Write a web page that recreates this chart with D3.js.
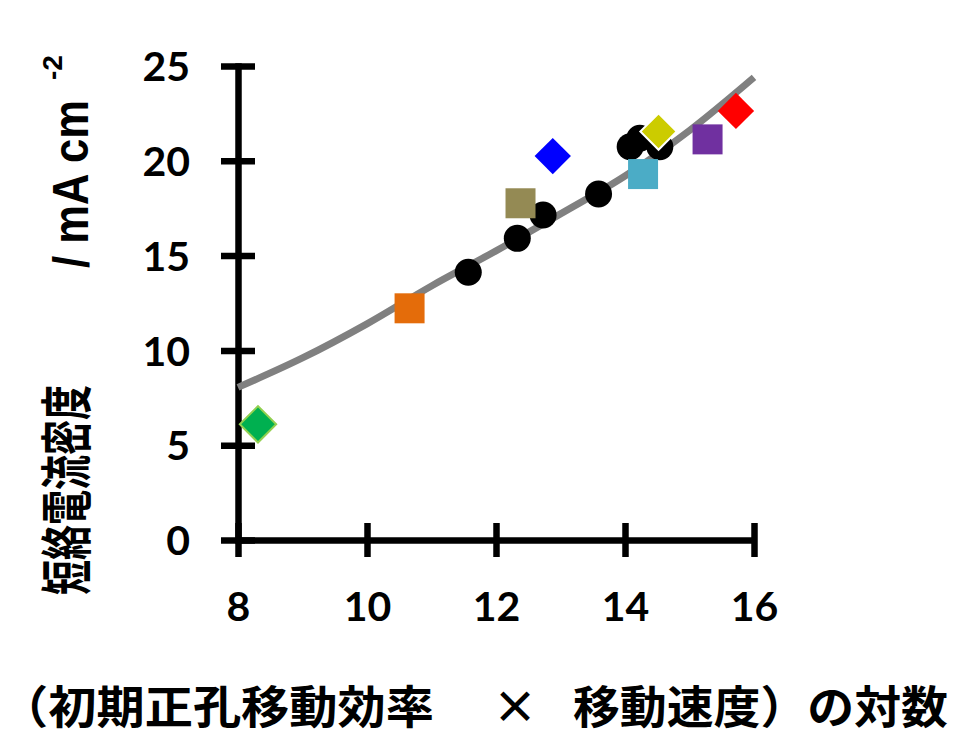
<!DOCTYPE html>
<html>
<head>
<meta charset="utf-8">
<script src="https://cdn.jsdelivr.net/npm/d3@7"></script>
<style>
  html, body { margin: 0; padding: 0; background: #fff; }
  svg { display: block; }
</style>
</head>
<body>
<svg id="chart" width="976" height="755"></svg>
<script>
// ---- data ----
const xTicks = [8, 10, 12, 14, 16];
const yTicks = [0, 5, 10, 15, 20, 25];

// fitted trend curve
const curveX = [8, 9, 10, 11, 12, 13, 14, 15, 16];
const curveY = [8.05, 9.6, 11.4, 13.4, 15.25, 17.2, 19.2, 21.6, 24.4];

// black circle series
const circleX = [11.57, 12.33, 12.73, 13.59, 14.08, 14.23, 14.54];
const circleY = [14.12, 15.91, 17.14, 18.25, 20.74, 21.19, 20.74];

// coloured markers
const markerX = [8.31, 10.66, 12.38, 12.88, 14.28, 14.52, 15.28, 15.72];
const markerY = [6.10, 12.22, 17.76, 20.25, 19.30, 21.54, 21.13, 22.63];
const markerShape = ["diamond", "square", "square", "diamond", "square", "diamond", "square", "diamond"];
const markerColor = ["#00B050", "#E46C0A", "#948A54", "#0000FF", "#4BACC6", "#CCCC00", "#7030A0", "#FF0000"];
const markerStroke = ["#92D050", "none", "none", "none", "none", "#FFFFFF", "none", "none"];

const xTitleLeft = "（初期正孔移動効率";
const xTitleMid = "×";
const xTitleRight = "移動速度）の対数";
const yTitleCJK = "短絡電流密度";
const yTitleUnit = "/ mA cm";
const yTitleSup = "-2";

// ---- layout ----
const svg = d3.select("#chart");
svg.append("rect").attr("width", 976).attr("height", 755).attr("fill", "#fff");

const x = d3.scaleLinear().domain([8, 16]).range([238, 754]);
const y = d3.scaleLinear().domain([0, 25]).range([540, 66]);

const cjk = "'Noto Sans CJK JP', 'Noto Sans CJK SC', sans-serif";
const tickFont = "Lato, 'Open Sans', sans-serif";
const AXW = 6.5;

// x axis
const gx = svg.append("g").attr("transform", `translate(0,${y(0)})`)
  .call(d3.axisBottom(x).tickValues(xTicks).tickSizeOuter(0).tickSizeInner(17).tickFormat(d3.format("d")));
gx.select(".domain").attr("stroke", "#000").attr("stroke-width", AXW);
gx.selectAll(".tick line").attr("y1", -17).attr("y2", 17).attr("stroke", "#000").attr("stroke-width", AXW);
gx.selectAll(".tick text").attr("y", 81).attr("dy", 0)
  .attr("font-family", tickFont).attr("font-weight", 700).attr("font-size", 41).attr("fill", "#000");

// y axis
const gy = svg.append("g").attr("transform", `translate(${x(8)},0)`)
  .call(d3.axisLeft(y).tickValues(yTicks).tickSizeOuter(0).tickSizeInner(17).tickFormat(d3.format("d")));
gy.select(".domain").attr("stroke", "#000").attr("stroke-width", AXW).attr("stroke-linecap", "square");
gy.selectAll(".tick line").attr("x1", -17).attr("x2", 17).attr("stroke", "#000").attr("stroke-width", AXW);
gy.selectAll(".tick text").attr("x", -48).attr("dy", "0.36em").attr("text-anchor", "end")
  .attr("font-family", tickFont).attr("font-weight", 700).attr("font-size", 41).attr("fill", "#000");

// trend curve
const curveData = curveX.map((v, i) => [v, curveY[i]]);
svg.append("path")
  .datum(curveData)
  .attr("fill", "none")
  .attr("stroke", "#808080")
  .attr("stroke-width", 7)
  .attr("d", d3.line().x(d => x(d[0])).y(d => y(d[1])).curve(d3.curveMonotoneX));

// circles
svg.append("g").selectAll("circle")
  .data(circleX.map((v, i) => [v, circleY[i]]))
  .join("circle")
  .attr("cx", d => x(d[0])).attr("cy", d => y(d[1])).attr("r", 13.5)
  .attr("fill", "#000");

// coloured markers
const sqSym = d3.symbol().type(d3.symbolSquare).size(900);
const diaSym = d3.symbol().type(d3.symbolSquare).size(660);
svg.append("g").selectAll("path")
  .data(markerX.map((v, i) => ({x: v, y: markerY[i], s: markerShape[i], c: markerColor[i], st: markerStroke[i]})))
  .join("path")
  .attr("d", d => d.s === "square" ? sqSym() : diaSym())
  .attr("transform", d => `translate(${x(d.x)},${y(d.y)})` + (d.s === "diamond" ? " rotate(45)" : ""))
  .attr("fill", d => d.c)
  .attr("stroke", d => d.st)
  .attr("stroke-width", 2);

// x title
const xt = svg.append("g").attr("font-family", cjk).attr("font-weight", 700).attr("font-size", 45).attr("fill", "#000");
xt.append("text").attr("x", 0).attr("y", 724).attr("textLength", 434).attr("lengthAdjust", "spacingAndGlyphs").text(xTitleLeft);
xt.append("text").attr("x", 515).attr("y", 724).attr("text-anchor", "middle").text(xTitleMid);
xt.append("text").attr("x", 573).attr("y", 724).attr("textLength", 375).attr("lengthAdjust", "spacingAndGlyphs").text(xTitleRight);

// y title
svg.append("text").attr("transform", "translate(86,595) rotate(-90)")
  .attr("font-family", cjk).attr("font-weight", 700).attr("font-size", 52)
  .attr("textLength", 210).attr("lengthAdjust", "spacingAndGlyphs").text(yTitleCJK);
svg.append("text").attr("transform", "translate(88,268) rotate(-90)")
  .attr("font-family", "'Liberation Sans', Arial, sans-serif").attr("font-weight", 700).attr("font-size", 50)
  .attr("textLength", 168).attr("lengthAdjust", "spacingAndGlyphs").text(yTitleUnit);
svg.append("text").attr("transform", "translate(62,80) rotate(-90)")
  .attr("font-family", "'Liberation Sans', Arial, sans-serif").attr("font-weight", 700).attr("font-size", 28)
  .text(yTitleSup);
</script>
</body>
</html>
